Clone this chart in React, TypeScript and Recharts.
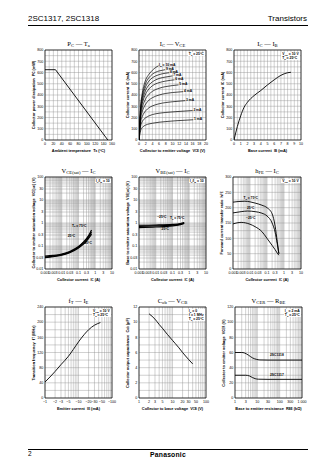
import React from "react";
import {
  CartesianGrid,
  Line,
  LineChart,
  ReferenceArea,
  ReferenceDot,
  XAxis,
  YAxis,
} from "recharts";

const SANS = '"Liberation Sans", Arial, Helvetica, sans-serif';
const SERIF = '"Liberation Serif", "Times New Roman", serif';

// ---------- PC - Ta
const ambientTemp = [0, 25, 150];
const powerDissipation = [625, 625, 0];
const pcXLabels = [0, 20, 40, 60, 80, 100, 120, 140, 160];
const milliLabels = [0, 100, 200, 300, 400, 500, 600, 700, 800];

// ---------- IC - VCE : [VCE (V), IC (mA)] per base current
const icVce10 = [[0, 0], [0.2, 140], [0.5, 300], [1, 420], [1.5, 490], [2, 535], [3, 585], [4, 620], [5, 645], [5.8, 660]];
const icVce9 = [[0, 0], [0.2, 130], [0.5, 285], [1, 395], [1.5, 460], [2, 505], [3, 555], [4, 585], [5, 603], [6, 614], [7, 620], [7.8, 625]];
const icVce8 = [[0, 0], [0.2, 125], [0.5, 270], [1, 375], [1.5, 435], [2, 475], [3, 525], [4, 553], [5, 570], [6, 581], [7, 589], [8, 594], [9, 598]];
const icVce7 = [[0, 0], [0.2, 120], [0.5, 255], [1, 350], [1.5, 405], [2, 443], [3, 490], [4, 517], [5, 535], [6, 547], [8, 560], [10, 570]];
const icVce6 = [[0, 0], [0.2, 110], [0.5, 240], [1, 325], [1.5, 375], [2, 410], [3, 455], [4, 482], [6, 510], [8, 524], [10.6, 535]];
const icVce5 = [[0, 0], [0.2, 100], [0.5, 215], [1, 290], [1.5, 335], [2, 367], [3, 407], [4, 432], [6, 460], [8, 475], [10, 484], [11.8, 490]];
const icVce4 = [[0, 0], [0.2, 90], [0.5, 190], [1, 255], [1.5, 293], [2, 320], [3, 355], [4, 376], [6, 400], [8, 414], [10, 422], [13.2, 430]];
const icVce3 = [[0, 0], [0.2, 75], [0.5, 160], [1, 210], [1.5, 240], [2, 260], [3, 287], [4, 303], [6, 322], [8, 333], [10, 340], [13.8, 350]];
const icVce2 = [[0, 0], [0.2, 60], [0.5, 125], [1, 165], [1.5, 185], [2, 198], [3, 215], [4, 226], [6, 238], [8, 245], [11, 252], [16, 262]];
const icVce1 = [[0, 0], [0.2, 40], [0.5, 85], [1, 112], [1.5, 125], [2, 133], [3, 143], [4, 149], [6, 158], [8, 164], [11, 171], [16.2, 180]];
const icVceCurves = [icVce10, icVce9, icVce8, icVce7, icVce6, icVce5, icVce4, icVce3, icVce2, icVce1];
const ibNames = ["10 mA", "9 mA", "8 mA", "7 mA", "6 mA", "5 mA", "4 mA", "3 mA", "2 mA", "1 mA"];
const vceLabels = [0, 2, 4, 6, 8, 10, 12, 14, 16, 18, 20];

// ---------- IC - IB : [IB (mA), IC (mA)]
const icIb = [[0, 0], [0.5, 120], [1, 215], [1.5, 290], [2, 335], [3, 395], [4, 440], [5, 490], [6, 535], [7, 575], [8, 598], [8.5, 602]];
const ibLabels = [0, 1, 2, 3, 4, 5, 6, 7, 8, 9, 10];

// ---------- VCE(sat) - IC : [IC (A), V]
const vceSat75 = [[0.001, 0.036], [0.003, 0.039], [0.01, 0.045], [0.03, 0.058], [0.1, 0.095], [0.2, 0.15], [0.3, 0.21], [0.5, 0.38], [0.6, 0.5]];
const vceSat25 = [[0.001, 0.033], [0.003, 0.036], [0.01, 0.042], [0.03, 0.054], [0.1, 0.088], [0.2, 0.135], [0.3, 0.185], [0.5, 0.32], [0.6, 0.4]];
const vceSatM25 = [[0.001, 0.031], [0.003, 0.034], [0.01, 0.04], [0.03, 0.051], [0.1, 0.082], [0.2, 0.12], [0.3, 0.165], [0.5, 0.27], [0.6, 0.33]];

// ---------- VBE(sat) - IC : [IC (A), V]
const vbeSatM25 = [[0.001, 0.8], [0.01, 0.82], [0.1, 0.87], [0.3, 0.95], [0.5, 1.05]];
const vbeSat25 = [[0.001, 0.72], [0.01, 0.75], [0.1, 0.81], [0.3, 0.9], [0.5, 1.0]];
const vbeSat75 = [[0.001, 0.63], [0.01, 0.67], [0.1, 0.75], [0.3, 0.85], [0.5, 0.96]];

const ampLabels = [0.001, 0.003, 0.01, 0.03, 0.1, 0.3, 1, 3, 10];
const voltLogLabels = [0.01, 0.03, 0.1, 0.3, 1, 3, 10, 30, 100];

// ---------- hFE - IC : [IC (A), hFE]
const hfe75 = [[0.001, 218], [0.002, 220], [0.005, 221], [0.01, 219], [0.02, 215], [0.05, 208], [0.1, 200], [0.2, 180], [0.3, 140], [0.4, 90], [0.5, 50]];
const hfe25 = [[0.001, 183], [0.003, 187], [0.007, 189], [0.02, 187], [0.05, 182], [0.1, 173], [0.2, 150], [0.3, 120], [0.4, 82], [0.5, 50]];
const hfeM25 = [[0.001, 147], [0.003, 152], [0.01, 146], [0.02, 138], [0.05, 122], [0.1, 100], [0.2, 77], [0.3, 63], [0.4, 52], [0.5, 45]];
const hfeLabels = [0, 50, 100, 150, 200, 250, 300];

// ---------- fT - IE : [IE (mA), fT (MHz)]
const ftIe = [[-1, 42], [-1.5, 58], [-2, 70], [-3, 88], [-5, 110], [-7, 128], [-10, 148], [-15, 168], [-20, 180], [-30, 192], [-45, 199]];
const ieLabels = [1, 2, 3, 5, 10, 20, 30, 50, 100];
const ftLabels = [0, 40, 80, 120, 160, 200, 240];

// ---------- Cob - VCB : [VCB (V), pF]
const cobVcb = [[2, 11.1], [3, 10.4], [4, 9.7], [5, 9.2], [7, 8.4], [10, 7.6], [15, 6.7], [20, 6.0], [30, 5.1], [40, 4.5]];
const vcbLabels = [1, 2, 3, 5, 10, 20, 30, 50, 100];
const cobLabels = [0, 2, 4, 6, 8, 10, 12];

// ---------- VCER - RBE : [RBE (kOhm), V]
const vcer1318 = [[1, 60], [2, 60], [2.6, 59.5], [4, 56.5], [6, 53], [9, 51], [13, 50.2], [30, 50], [1000, 50]];
const vcer1317 = [[1, 30], [3, 30], [4.5, 29], [6, 27], [8, 25.5], [11, 24.8], [30, 24.6], [1000, 24.6]];
const rbeLabels = [1, 3, 10, 30, 100, 300, 1000];
const vcerLabels = [0, 20, 40, 60, 80, 100, 120];

// ---------- helpers
const pts = (pairs: number[][]) => pairs.map(([x, y]) => ({ x, y }));

function steps(min: number, max: number, step: number) {
  const out: number[] = [];
  for (let v = min; v <= max + 1e-9; v += step) out.push(+v.toFixed(6));
  return out;
}

function logSteps(min: number, max: number) {
  const out: number[] = [];
  for (let d = min; d < max * 0.999; d *= 10)
    for (let k = 1; k < 10; k++) out.push(+(d * k).toPrecision(6));
  out.push(max);
  return out;
}

function only(labels: number[], show: (v: number) => string = (v) => String(v)) {
  return (v: number) =>
    labels.some((l) => Math.abs(v - l) <= Math.abs(l) * 1e-6 + 1e-12) ? show(v) : "";
}

function S({ children }: { children: React.ReactNode }) {
  return (
    <span style={{ fontSize: "0.72em", verticalAlign: "-0.3em", lineHeight: 0 }}>{children}</span>
  );
}

// label drawn at a data point (through ReferenceDot)
const tag =
  (main: string, sub: string, rest: string, anchor: "start" | "middle" | "end" = "start", dx = 0.8, dy = 1.2) =>
  (p: any) => (
    <text
      x={p.viewBox.x + dx}
      y={p.viewBox.y + dy}
      fontSize={3.3}
      fontFamily={SANS}
      fontWeight={700}
      textAnchor={anchor}
      fill="#000"
    >
      {main}
      {sub ? (
        <tspan fontSize={2.4} dy={0.7}>
          {sub}
        </tspan>
      ) : null}
      <tspan dy={sub ? -0.7 : 0}>{rest}</tspan>
    </text>
  );

const mark = (x: number, y: number, label: any, key: string) => (
  <ReferenceDot key={key} x={x} y={y} r={0.01} fill="none" stroke="none" label={label} />
);

const curve = (data: number[][], key: string, width = 0.9, type: "monotone" | "linear" = "monotone") => (
  <Line
    key={key}
    data={pts(data)}
    dataKey="y"
    type={type}
    stroke="#000"
    strokeWidth={width}
    dot={false}
    isAnimationActive={false}
  />
);

interface PanelProps {
  left: number;
  top: number;
  w: number;
  h: number;
  xDomain: [number, number];
  xTicks: number[];
  xFmt: (v: number) => string;
  xLog?: boolean;
  yDomain: [number, number];
  yTicks: number[];
  yFmt: (v: number) => string;
  yLog?: boolean;
  title: React.ReactNode;
  xTitle: React.ReactNode;
  yTitle: React.ReactNode;
  note?: React.ReactNode[];
  children: React.ReactNode[];
}

const ML = 16;
const MR = 7;
const MT = 3;
const MB = 10;

function Panel(p: PanelProps) {
  const tick = { fontSize: 3.6, fill: "#000", fontFamily: SANS };
  return (
    <>
      <div
        style={{
          position: "absolute",
          left: p.left + p.w / 2,
          top: p.top - 7,
          transform: "translate(-50%, -50%)",
          fontFamily: SERIF,
          fontSize: 6.5,
          whiteSpace: "nowrap",
        }}
      >
        {p.title}
      </div>
      <div style={{ position: "absolute", left: p.left - ML, top: p.top - MT }}>
        <LineChart
          width={p.w + ML + MR}
          height={p.h + MT + MB}
          margin={{ top: MT, right: MR, bottom: 0, left: 2 }}
        >
          <CartesianGrid stroke="#8c8c8c" strokeWidth={0.4} />
          <XAxis
            type="number"
            dataKey="x"
            domain={p.xDomain}
            scale={p.xLog ? "log" : "linear"}
            ticks={p.xTicks}
            interval={0}
            allowDataOverflow
            axisLine={false}
            tickLine={false}
            tickSize={1.5}
            tickMargin={0.5}
            height={MB}
            tick={tick}
            tickFormatter={p.xFmt}
          />
          <YAxis
            type="number"
            dataKey="y"
            domain={p.yDomain}
            scale={p.yLog ? "log" : "linear"}
            ticks={p.yTicks}
            interval={0}
            allowDataOverflow
            axisLine={false}
            tickLine={false}
            tickSize={1}
            tickMargin={0.8}
            width={ML - 2}
            tick={tick}
            tickFormatter={p.yFmt}
          />
          {p.children}
          <ReferenceArea
            x1={p.xDomain[0]}
            x2={p.xDomain[1]}
            y1={p.yDomain[0]}
            y2={p.yDomain[1]}
            fill="none"
            stroke="#000"
            strokeWidth={0.7}
          />
        </LineChart>
      </div>
      <div
        style={{
          position: "absolute",
          left: p.left + p.w / 2,
          top: p.top + p.h + 10,
          transform: "translate(-50%, -50%)",
          fontFamily: SANS,
          fontWeight: 700,
          fontSize: 3.9,
          whiteSpace: "nowrap",
        }}
      >
        {p.xTitle}
      </div>
      <div
        style={{
          position: "absolute",
          left: p.left - 12,
          top: p.top + p.h / 2,
          transform: "translate(-50%, -50%) rotate(-90deg)",
          fontFamily: SANS,
          fontWeight: 700,
          fontSize: 3.9,
          whiteSpace: "nowrap",
        }}
      >
        {p.yTitle}
      </div>
      {p.note ? (
        <div
          style={{
            position: "absolute",
            right: 336 - (p.left + p.w) + 1.5,
            top: p.top + 1.5,
            background: "#fff",
            padding: "0.4px 0.8px",
            fontFamily: SANS,
            fontWeight: 700,
            fontSize: 3.4,
            lineHeight: "4px",
            whiteSpace: "nowrap",
          }}
        >
          {p.note.map((n, i) => (
            <div key={i}>{n}</div>
          ))}
        </div>
      ) : null}
    </>
  );
}

const ampTicks = logSteps(0.001, 10);
const voltLogTicks = logSteps(0.01, 100);

export default function App() {
  const pcData = ambientTemp.map((t, i) => [t, powerDissipation[i]]);
  return (
    <div
      style={{
        position: "absolute",
        left: 0,
        top: 0,
        width: 336,
        height: 474,
        background: "#fff",
        color: "#000",
        overflow: "hidden",
      }}
    >
      {/* header */}
      <div style={{ position: "absolute", left: 28, top: 14, fontFamily: SANS, fontSize: 8 }}>
        2SC1317, 2SC1318
      </div>
      <div style={{ position: "absolute", right: 29, top: 14, fontFamily: SANS, fontSize: 8 }}>
        Transistors
      </div>
      <div style={{ position: "absolute", left: 28, top: 24.5, width: 280, height: 1.4, background: "#000" }} />

      {/* row 1 */}
      <Panel
        left={45}
        top={50}
        w={67}
        h={90}
        xDomain={[0, 160]}
        xTicks={steps(0, 160, 10)}
        xFmt={only(pcXLabels)}
        yDomain={[0, 800]}
        yTicks={steps(0, 800, 50)}
        yFmt={only(milliLabels)}
        title={<>P<S>C</S> — T<S>a</S></>}
        xTitle={<>Ambient temperature&nbsp; T<S>a</S> (°C)</>}
        yTitle={<>Collector power dissipation&nbsp; P<S>C</S> (mW)</>}
      >
        {[curve(pcData, "pc", 0.9, "linear")]}
      </Panel>

      <Panel
        left={139}
        top={50}
        w={67}
        h={90}
        xDomain={[0, 20]}
        xTicks={steps(0, 20, 1)}
        xFmt={only(vceLabels)}
        yDomain={[0, 800]}
        yTicks={steps(0, 800, 50)}
        yFmt={only(milliLabels)}
        title={<>I<S>C</S> — V<S>CE</S></>}
        xTitle={<>Collector to emitter voltage&nbsp; V<S>CE</S> (V)</>}
        yTitle={<>Collector current&nbsp; I<S>C</S> (mA)</>}
        note={[<>T<S>a</S> = 25°C</>]}
      >
        {[
          ...icVceCurves.map((c, i) => curve(c, "ib" + i, 0.7)),
          ...icVceCurves.map((c, i) => {
            const [ex, ey] = c[c.length - 1];
            return mark(
              ex,
              ey,
              i === 0 ? tag("I", "B", " = " + ibNames[i], "start", 0.6, 0.2) : tag("", "", ibNames[i], "start", 0.8, 0.6),
              "ibl" + i
            );
          }),
        ]}
      </Panel>

      <Panel
        left={234}
        top={50}
        w={67}
        h={90}
        xDomain={[0, 10]}
        xTicks={steps(0, 10, 0.5)}
        xFmt={only(ibLabels)}
        yDomain={[0, 800]}
        yTicks={steps(0, 800, 50)}
        yFmt={only(milliLabels)}
        title={<>I<S>C</S> — I<S>B</S></>}
        xTitle={<>Base current&nbsp; I<S>B</S> (mA)</>}
        yTitle={<>Collector current&nbsp; I<S>C</S> (mA)</>}
        note={[<>V<S>CE</S> = 10 V</>, <>T<S>a</S> = 25°C</>]}
      >
        {[curve(icIb, "icib", 0.9)]}
      </Panel>

      {/* row 2 */}
      <Panel
        left={45}
        top={177}
        w={67}
        h={92}
        xLog
        xDomain={[0.001, 10]}
        xTicks={ampTicks}
        xFmt={only(ampLabels)}
        yLog
        yDomain={[0.01, 100]}
        yTicks={voltLogTicks}
        yFmt={only(voltLogLabels)}
        title={<>V<S>CE(sat)</S> — I<S>C</S></>}
        xTitle={<>Collector current&nbsp; I<S>C</S> (A)</>}
        yTitle={<>Collector to emitter saturation voltage&nbsp; V<S>CE(sat)</S> (V)</>}
        note={[<>I<S>C</S>/I<S>B</S> = 10</>]}
      >
        {[
          curve(vceSat75, "s75", 1.2),
          curve(vceSat25, "s25", 1.2),
          curve(vceSatM25, "sm25", 1.2),
          mark(0.11, 0.76, tag("T", "a", " = 75°C", "middle", 0, 1), "l75"),
          mark(0.038, 0.28, tag("", "", "25°C", "middle", 0, 1), "l25"),
          mark(0.33, 0.14, tag("", "", "−25°C", "middle", 0, 1), "lm25"),
        ]}
      </Panel>

      <Panel
        left={139}
        top={177}
        w={67}
        h={92}
        xLog
        xDomain={[0.001, 10]}
        xTicks={ampTicks}
        xFmt={only(ampLabels)}
        yLog
        yDomain={[0.01, 100]}
        yTicks={voltLogTicks}
        yFmt={only(voltLogLabels)}
        title={<>V<S>BE(sat)</S> — I<S>C</S></>}
        xTitle={<>Collector current&nbsp; I<S>C</S> (A)</>}
        yTitle={<>Base to emitter saturation voltage&nbsp; V<S>BE(sat)</S> (V)</>}
        note={[<>I<S>C</S>/I<S>B</S> = 10</>]}
      >
        {[
          curve(vbeSatM25, "b25m", 1.2),
          curve(vbeSat25, "b25", 1.2),
          curve(vbeSat75, "b75", 1.2),
          mark(0.023, 1.87, tag("", "", "−25°C", "middle", 0, 1), "bl1"),
          mark(0.19, 1.58, tag("T", "a", " = 75°C", "middle", 0, 1), "bl2"),
          mark(0.037, 0.54, tag("", "", "25°C", "middle", 0, 1), "bl3"),
        ]}
      </Panel>

      <Panel
        left={233}
        top={177}
        w={68}
        h={92}
        xLog
        xDomain={[0.001, 10]}
        xTicks={ampTicks}
        xFmt={only(ampLabels)}
        yDomain={[0, 300]}
        yTicks={steps(0, 300, 25)}
        yFmt={only(hfeLabels)}
        title={<>h<S>FE</S> — I<S>C</S></>}
        xTitle={<>Collector current&nbsp; I<S>C</S> (A)</>}
        yTitle={<>Forward current transfer ratio&nbsp; h<S>FE</S></>}
        note={[<>V<S>CE</S> = 10 V</>]}
      >
        {[
          curve(hfe75, "h75", 0.9),
          curve(hfe25, "h25", 0.9),
          curve(hfeM25, "hm25", 0.9),
          mark(0.011, 232, tag("T", "a", " = 75°C", "middle", 0, 1), "hl1"),
          mark(0.011, 199, tag("", "", "25°C", "middle", 0, 1), "hl2"),
          mark(0.011, 165, tag("", "", "−25°C", "middle", 0, 1), "hl3"),
        ]}
      </Panel>

      {/* row 3 */}
      <Panel
        left={45}
        top={307}
        w={67}
        h={91}
        xLog
        xDomain={[1, 100]}
        xTicks={logSteps(1, 100)}
        xFmt={only(ieLabels, (v) => "−" + v)}
        yDomain={[0, 240]}
        yTicks={steps(0, 240, 20)}
        yFmt={only(ftLabels)}
        title={<>f<S>T</S> — I<S>E</S></>}
        xTitle={<>Emitter current&nbsp; I<S>E</S> (mA)</>}
        yTitle={<>Transition frequency&nbsp; f<S>T</S> (MHz)</>}
        note={[<>V<S>CB</S> = 10 V</>, <>T<S>a</S> = 25°C</>]}
      >
        {[curve(ftIe.map(([ie, f]) => [Math.abs(ie), f]), "ft", 0.9)]}
      </Panel>

      <Panel
        left={139}
        top={307}
        w={67}
        h={91}
        xLog
        xDomain={[1, 100]}
        xTicks={logSteps(1, 100)}
        xFmt={only(vcbLabels)}
        yDomain={[0, 12]}
        yTicks={steps(0, 12, 1)}
        yFmt={only(cobLabels)}
        title={<>C<S>ob</S> — V<S>CB</S></>}
        xTitle={<>Collector to base voltage&nbsp; V<S>CB</S> (V)</>}
        yTitle={<>Collector output capacitance&nbsp; C<S>ob</S> (pF)</>}
        note={[<>I<S>E</S> = 0</>, <>f = 1 MHz</>, <>T<S>a</S> = 25°C</>]}
      >
        {[curve(cobVcb, "cob", 0.9)]}
      </Panel>

      <Panel
        left={235}
        top={307}
        w={67}
        h={91}
        xLog
        xDomain={[1, 1000]}
        xTicks={logSteps(1, 1000)}
        xFmt={only(rbeLabels, (v) => (v === 1000 ? "1 000" : String(v)))}
        yDomain={[0, 120]}
        yTicks={steps(0, 120, 10)}
        yFmt={only(vcerLabels)}
        title={<>V<S>CER</S> — R<S>BE</S></>}
        xTitle={<>Base to emitter resistance&nbsp; R<S>BE</S> (kΩ)</>}
        yTitle={<>Collector to emitter voltage&nbsp; V<S>CER</S> (V)</>}
        note={[<>I<S>C</S> = 2 mA</>, <>T<S>a</S> = 25°C</>]}
      >
        {[
          curve(vcer1318, "v18", 0.9),
          curve(vcer1317, "v17", 0.9),
          mark(75, 55, tag("", "", "2SC1318", "middle", 0, 0), "vl1"),
          mark(75, 29, tag("", "", "2SC1317", "middle", 0, 0), "vl2"),
        ]}
      </Panel>

      {/* footer */}
      <div style={{ position: "absolute", left: 28, top: 448.5, width: 280, height: 1, background: "#000" }} />
      <div style={{ position: "absolute", left: 28, top: 450, fontFamily: SANS, fontSize: 6.5 }}>2</div>
      <div
        style={{
          position: "absolute",
          left: 168,
          top: 453.5,
          transform: "translate(-50%, -50%)",
          fontFamily: SANS,
          fontWeight: 700,
          fontSize: 6.8,
          letterSpacing: 0.2,
        }}
      >
        Panasonic
      </div>
    </div>
  );
}
